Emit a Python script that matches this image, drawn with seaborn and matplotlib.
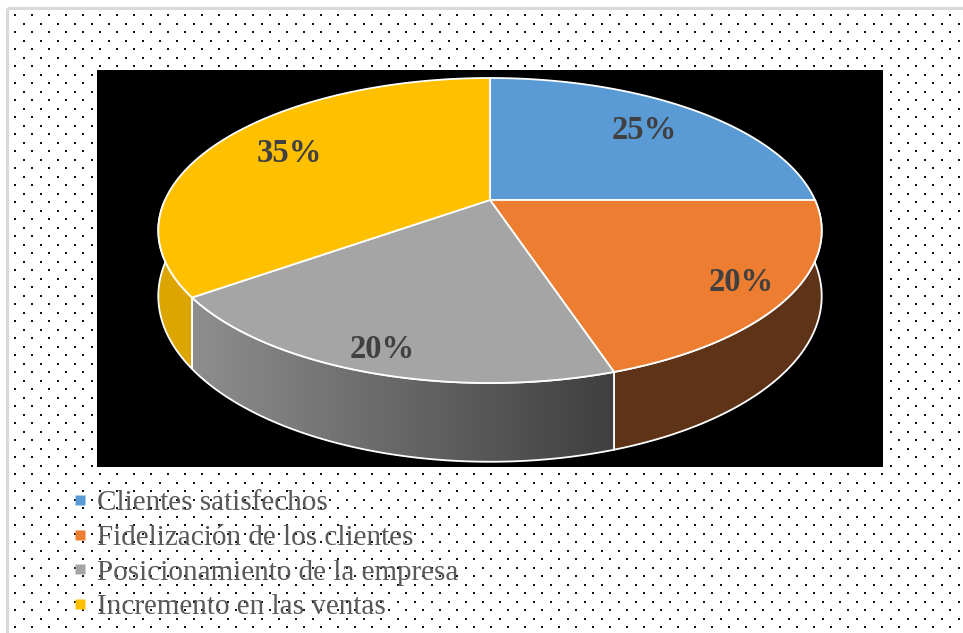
import numpy as np
import matplotlib
matplotlib.use("Agg")
import matplotlib.pyplot as plt
import seaborn as sns
from matplotlib.patches import Polygon, Rectangle
from matplotlib.lines import Line2D
from matplotlib.colors import LinearSegmentedColormap

# ---- data -------------------------------------------------------------
categories = ["Clientes satisfechos", "Fidelización de los clientes",
              "Posicionamiento de la empresa", "Incremento en las ventas"]
shares = [25, 20, 20, 35]
labels = ["25%", "20%", "20%", "35%"]

# ---- style ------------------------------------------------------------
sns.set_theme(style="white")
plt.rcParams["font.family"] = ["Liberation Serif", "DejaVu Serif"]

top_colors = ["#5B9BD5", "#ED7D31", "#A5A5A5", "#FFC000"]
side_colors = ["#2E5F8C", "#5E3317", None, "#DCA500"]
label_radius = [0.74, 0.86, 0.89, 0.74]

W, H = 963, 633
fig = plt.figure(figsize=(W / 100, H / 100), dpi=100)
ax = fig.add_axes([0, 0, 1, 1])
ax.set_xlim(0, W)
ax.set_ylim(H, 0)
ax.axis("off")
fig.patch.set_facecolor("white")

# dotted background
pts = []
j = 0
y = 15.3
while y < H:
    x = 15 + (j % 2) * 8.5
    while x < W:
        pts.append((x, y))
        x += 17
    y += 8.5
    j += 1
pts = np.array(pts)
ax.scatter(pts[:, 0], pts[:, 1], s=2.4, marker="s", color="#111111",
           linewidths=0, zorder=1)

# frame lines (top and left)
ax.plot([7, W], [8, 8], color="#d9d9d9", lw=2.2, zorder=2, solid_capstyle="butt")
ax.plot([7, 7], [8, H], color="#d9d9d9", lw=2.2, zorder=2, solid_capstyle="butt")

# black plot area
ax.add_patch(Rectangle((97, 70), 786, 397, facecolor="black", edgecolor="none", zorder=3))

# ---- 3D pie projection -------------------------------------------------
cx, cy = 490, 200
A, B, K, D = 325, 146.4, 0.2, 63


def proj(theta_deg, r=1.0, h=0.0):
    t = np.radians(theta_deg)
    u = r * np.cos(t)
    v = r * np.sin(t)
    den = 1 + K * v
    return cx + A * u / den, cy - B * v / den + D * h / den


cum = np.concatenate([[0], np.cumsum(shares)]) / np.sum(shares)
starts = 90 - 360 * cum[:-1]
ends = 90 - 360 * cum[1:]

edge_kw = dict(edgecolor="white", linewidth=1.3)

# sides (front half only, math angles -180..0)
for i in range(len(shares)):
    lo = max(ends[i], -180)
    hi = min(starts[i], 0)
    if hi - lo <= 0.01:
        continue
    th = np.linspace(lo, hi, 120)
    tx, ty = proj(th)
    bx, by = proj(th, h=1)
    poly = np.column_stack([np.concatenate([tx, bx[::-1]]),
                            np.concatenate([ty, by[::-1]])])
    if side_colors[i] is None:
        grad = np.linspace(0, 1, 256).reshape(1, -1)
        cmap = LinearSegmentedColormap.from_list("side", ["#8e8e8e", "#3f3f3f"])
        x0, x1 = poly[:, 0].min(), poly[:, 0].max()
        y0, y1 = poly[:, 1].min(), poly[:, 1].max()
        im = ax.imshow(grad, cmap=cmap, extent=(x0, x1, y1, y0), aspect="auto",
                       zorder=4, interpolation="bilinear")
        clip = Polygon(poly, closed=True, transform=ax.transData)
        im.set_clip_path(clip)
        ax.add_patch(Polygon(poly, closed=True, facecolor="none", zorder=4.5, **edge_kw))
    else:
        ax.add_patch(Polygon(poly, closed=True, facecolor=side_colors[i],
                             zorder=4, **edge_kw))

ax.set_xlim(0, W)
ax.set_ylim(H, 0)

# top faces
for i in range(len(shares)):
    th = np.linspace(starts[i], ends[i], 200)
    tx, ty = proj(th)
    poly = np.column_stack([np.concatenate([[cx], tx]), np.concatenate([[cy], ty])])
    ax.add_patch(Polygon(poly, closed=True, facecolor=top_colors[i], zorder=5,
                         joinstyle="round", **edge_kw))

# data labels
for i in range(len(shares)):
    mid = (starts[i] + ends[i]) / 2
    lx, ly = proj(mid, r=label_radius[i])
    ax.text(lx, ly, labels[i], ha="center", va="center", fontsize=23.5,
            fontweight="bold", color="#404040", zorder=6)

# legend
handles = [Line2D([], [], marker="s", linestyle="none", markersize=7.2,
                  markerfacecolor=c, markeredgecolor="none") for c in top_colors]
leg = ax.legend(handles, categories, loc="upper left",
                bbox_to_anchor=(73 / W, 1 - 490 / H), frameon=False,
                fontsize=21, labelcolor="#595959", handlelength=0.5,
                handletextpad=0.33, labelspacing=0.28, borderpad=0,
                borderaxespad=0)
leg.set_zorder(7)

fig.savefig("out.png", dpi=100, facecolor="white")
